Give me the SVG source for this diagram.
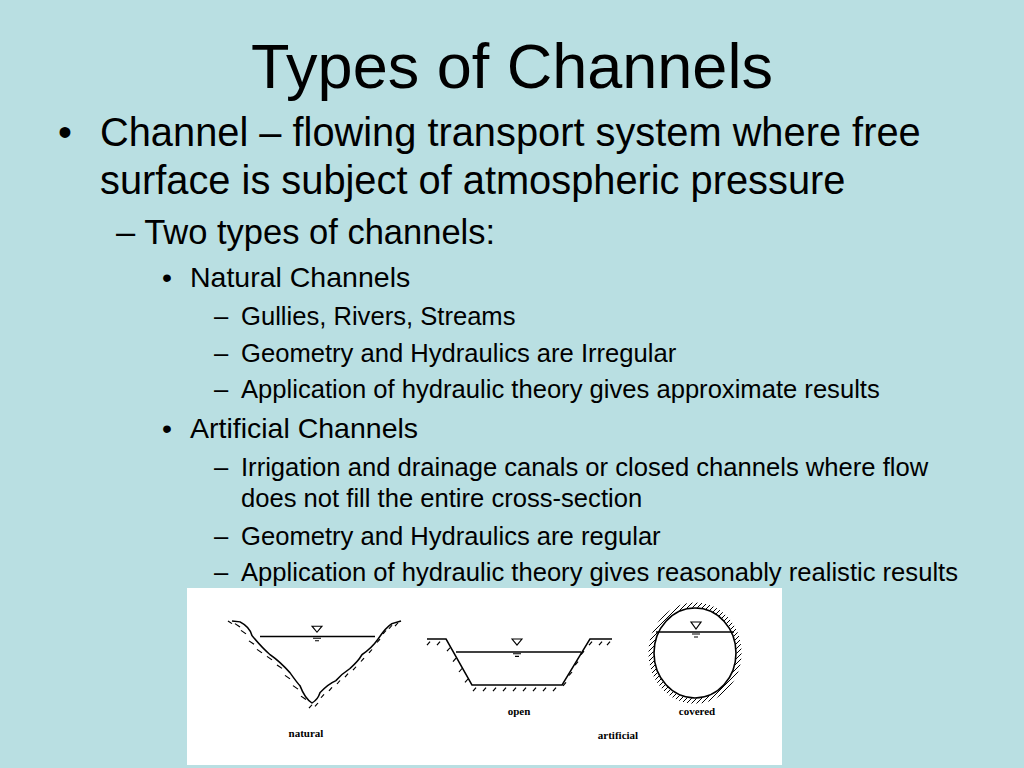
<svg xmlns="http://www.w3.org/2000/svg" width="1024" height="768" viewBox="0 0 1024 768">
<defs>
<style>
text{font-family:"Liberation Sans",Arial,sans-serif;fill:#000}
.l1{font-size:39.8px}.l2{font-size:34.5px}.l3{font-size:28.5px}.l4{font-size:25.6px}
.ln{fill:none;stroke:#000;stroke-width:1.6}
.h{fill:none;stroke:#000;stroke-width:1.2}
.lab{font-family:"Liberation Serif",serif;font-size:11px;font-weight:bold}
</style>
<pattern id="hat" width="5" height="5" patternUnits="userSpaceOnUse"><path d="M0 5L5 0" stroke="#000" stroke-width="1"/></pattern>
</defs>
<rect width="1024" height="768" fill="#b9dfe2"/>
<g id="text">
<text x="512" y="88" font-size="63" text-anchor="middle">Types of Channels</text>
<text x="58" y="146" class="l1">•</text>
<text x="100" y="146" class="l1">Channel – flowing transport system where free</text>
<text x="100" y="194" class="l1">surface is subject of atmospheric pressure</text>
<text x="116" y="244" class="l2">– Two types of channels:</text>
<text x="162" y="287" class="l3">•</text><text x="190" y="287" class="l3">Natural Channels</text>
<text x="214" y="325" class="l4">–</text><text x="241" y="325" class="l4">Gullies, Rivers, Streams</text>
<text x="214" y="362" class="l4">–</text><text x="241" y="362" class="l4">Geometry and Hydraulics are Irregular</text>
<text x="214" y="398" class="l4">–</text><text x="241" y="398" class="l4">Application of hydraulic theory gives approximate results</text>
<text x="162" y="438" class="l3">•</text><text x="190" y="438" class="l3">Artificial Channels</text>
<text x="214" y="476" class="l4">–</text><text x="241" y="476" class="l4">Irrigation and drainage canals or closed channels where flow</text>
<text x="241" y="507" class="l4">does not fill the entire cross-section</text>
<text x="214" y="545" class="l4">–</text><text x="241" y="545" class="l4">Geometry and Hydraulics are regular</text>
<text x="214" y="581" class="l4">–</text><text x="241" y="581" class="l4">Application of hydraulic theory gives reasonably realistic results</text>
</g>
<g id="figure">
<rect x="187" y="588" width="595" height="177" fill="#fff"/>
<g id="natural">
<g transform="matrix(1 0 0 0.863 0 81.6)">
<path class="ln" d="M232 625 L240 626 Q250 632 252 642 Q262 656 270 664 Q280 672 290 685 Q298 698 300 700 Q305 715 312 720 Q318 716 320 708 Q328 698 336 694 Q342 686 350 680 Q358 672 362 664 Q372 656 378 646 Q386 632 392 628 L401 625"/>
<path class="h" d="M232 628l-4 -3M240 632l-5 -4M246 640l-5 -4M254 652l-5 -4M262 662l-5 -4M272 670l-5 -4M282 680l-5 -4M290 692l-5 -4M298 704l-5 -4M306 716l-5 -4M312 722l-3 4M318 720l-3 4M324 710l-3 4M332 702l-3 4M340 694l-3 4M348 686l-3 4M356 678l-3 4M364 668l-3 4M372 658l-3 4M380 646l-3 4M386 636l-3 4M392 630l-3 4M398 627l-3 4"/>
<line class="ln" x1="260" y1="643" x2="375" y2="643"/>
<path class="h" d="M312 631h10l-5 7z M313 645h8M315 648h4"/>
</g>
<text class="lab" x="306" y="737" text-anchor="middle">natural</text>
</g>
<g id="open">
<g transform="matrix(1 0 0 0.868 0 78.3)">
<path class="ln" d="M427 646H446L472 699H562L590 646H612"/>
<path class="h" d="M430 649l-3 4M440 649l-3 4M450 656l-3 4M456 668l-3 4M462 680l-3 4M468 692l-3 4M476 702l-3 4M486 702l-3 4M496 702l-3 4M506 702l-3 4M516 702l-3 4M526 702l-3 4M536 702l-3 4M546 702l-3 4M556 702l-3 4M566 696l-3 4M572 684l-3 4M578 672l-3 4M584 660l-3 4M592 649l-3 4M602 649l-3 4M610 649l-3 4"/>
<line class="ln" x1="456" y1="661" x2="581" y2="661"/>
<path class="h" d="M512 646h10l-5 7z M513 663h8M515 666h4"/>
</g>
<text class="lab" x="519" y="715" text-anchor="middle">open</text>
</g>
<g id="covered">
<ellipse class="ln" cx="695" cy="653" rx="41" ry="45"/>
<ellipse fill="none" stroke="url(#hat)" stroke-width="5" cx="695" cy="653" rx="44" ry="48"/>
<line class="ln" x1="656" y1="632" x2="734" y2="632"/>
<path class="h" d="M691 622h10l-5 7z M692 634h8M694 637h4"/>
<text class="lab" x="697" y="715" text-anchor="middle">covered</text>
</g>
<text class="lab" x="618" y="739" text-anchor="middle">artificial</text>
</g>
</svg>
